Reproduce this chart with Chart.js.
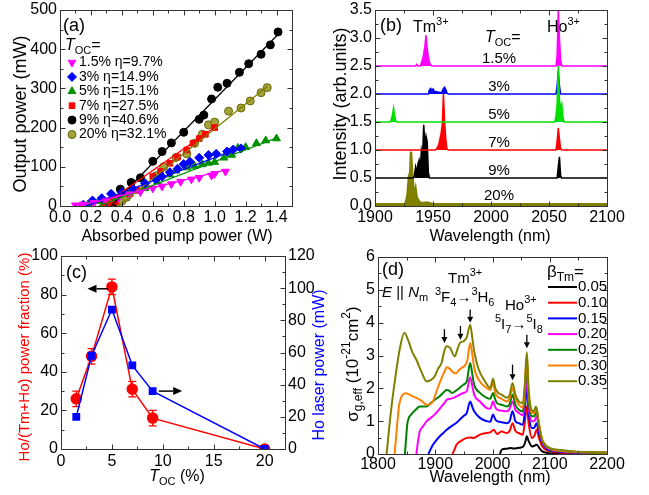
<!DOCTYPE html>
<html>
<head>
<meta charset="utf-8">
<script src="https://cdn.jsdelivr.net/npm/chart.js@4.4.1/dist/chart.umd.min.js"></script>
<style>
  html, body { margin: 0; padding: 0; background: #fff; }
  #wrap { position: relative; width: 649px; height: 495px; }
  #wrap canvas { position: absolute; left: 0; top: 0; }
</style>
</head>
<body>
<div id="wrap">
  <canvas id="ca" width="649" height="495"></canvas>
  <canvas id="cb" width="649" height="495"></canvas>
  <canvas id="cc" width="649" height="495"></canvas>
  <canvas id="cd" width="649" height="495"></canvas>
</div>
<script>
// ---- panel (a): output power vs absorbed pump power ----
const legendA = ["1.5% η=9.7%", "3% η=14.9%", "5% η=15.1%", "7% η=27.5%", "9% η=40.6%", "20% η=32.1%"];
const pumpA15 = [0.10, 0.15, 0.22, 0.30, 0.38, 0.45, 0.52, 0.60, 0.66, 0.72, 0.78, 0.85, 0.90, 0.98, 1.00, 1.07];
const powA15 = [2, 4, 8, 14, 22, 30, 36, 45, 50, 56, 62, 68, 72, 78, 82, 88];
const pumpA3 = [0.15, 0.21, 0.27, 0.33, 0.40, 0.47, 0.55, 0.62, 0.66, 0.71, 0.76, 0.80, 0.84, 0.90, 0.96, 1.01, 1.08, 1.12, 1.17];
const powA3 = [3, 14, 20, 31, 35, 45, 58, 68, 75, 86, 95, 107, 113, 123, 130, 133, 139, 144, 147];
const pumpA5 = [0.18, 0.25, 0.35, 0.45, 0.55, 0.63, 0.71, 0.75, 0.82, 0.87, 0.92, 0.96, 1.00, 1.06, 1.11, 1.15, 1.20, 1.27, 1.33, 1.40];
const powA5 = [3, 12, 22, 33, 45, 62, 80, 90, 98, 102, 106, 110, 112, 123, 130, 148, 150, 160, 167, 172];
const pumpA7 = [0.28, 0.32, 0.36, 0.45, 0.50, 0.60, 0.65, 0.71, 0.76, 0.82, 0.86, 0.90, 0.94, 1.00];
const powA7 = [2, 5, 12, 30, 40, 75, 88, 109, 125, 143, 160, 172, 183, 200];
const pumpA9 = [0.34, 0.39, 0.46, 0.52, 0.60, 0.66, 0.72, 0.80, 0.90, 0.93, 0.98, 1.02, 1.08, 1.16, 1.22, 1.30, 1.36, 1.41];
const powA9 = [3, 43, 60, 72, 114, 139, 161, 188, 221, 232, 273, 303, 313, 341, 363, 387, 411, 444];
const pumpA20 = [0.36, 0.40, 0.43, 0.55, 0.62, 0.67, 0.75, 0.82, 0.87, 0.92, 0.96, 1.00, 1.09, 1.17, 1.23, 1.30, 1.34];
const powA20 = [2, 12, 22, 50, 77, 100, 124, 133, 160, 183, 207, 214, 242, 250, 268, 289, 302];
// linear fits: [start x, end x], [start y, end y]
const fitA15 = [[0.12, 1.07], [0, 92]];
const fitA3 = [[0.17, 1.18], [0, 150]];
const fitA5 = [[0.25, 1.41], [0, 175]];
const fitA7 = [[0.27, 1.00], [0, 201]];
const fitA9 = [[0.33, 1.42], [0, 442]];
const fitA20 = [[0.38, 1.34], [0, 305]];
const xTicksA = [0, 0.2, 0.4, 0.6, 0.8, 1.0, 1.2, 1.4];
const yTicksA = [0, 100, 200, 300, 400, 500];

// ---- panel (b): laser spectra, [wavelength nm, intensity] ----
const labelsB = ["1.5%", "3%", "5%", "7%", "9%", "20%"];
const baseB = [2.5, 2.0, 1.5, 1.0, 0.5, 0.0];
const specB15 = [[1900, 2.5], [1935, 2.5], [1936, 2.53], [1937, 2.5], [1939, 2.5], [1940, 2.56], [1941, 2.62], [1942, 2.72], [1943, 2.85], [1944, 3.05], [1945, 2.82], [1946, 2.66], [1947, 2.56], [1948, 2.52], [1949, 2.5], [2056, 2.5], [2057, 2.68], [2058, 3.5], [2059, 3.0], [2060, 2.62], [2061, 2.5], [2100, 2.5]];
const specB3 = [[1900, 2.0], [1946, 2.0], [1947, 2.08], [1948, 2.1], [1949, 2.06], [1950, 2.09], [1951, 2.05], [1953, 2.04], [1955, 2.03], [1957, 2.02], [1958, 2.05], [1959, 2.1], [1960, 2.12], [1961, 2.08], [1962, 2.02], [1963, 2.0], [2056, 2.0], [2057, 2.15], [2058, 2.4], [2059, 2.15], [2060, 2.0], [2100, 2.0]];
const specB5 = [[1900, 1.5], [1913, 1.5], [1914, 1.55], [1915, 1.62], [1916, 1.75], [1917, 1.6], [1918, 1.52], [1919, 1.5], [2055, 1.5], [2056, 1.6], [2057, 1.8], [2058, 2.5], [2059, 1.9], [2060, 1.75], [2061, 1.82], [2062, 1.6], [2063, 1.5], [2100, 1.5]];
const specB7 = [[1900, 1.0], [1952, 1.0], [1953, 1.02], [1954, 1.05], [1955, 1.1], [1956, 1.2], [1957, 1.3], [1958, 1.45], [1959, 2.0], [1960, 1.5], [1961, 1.2], [1962, 1.02], [1963, 1.0], [2056, 1.0], [2057, 1.15], [2058, 1.39], [2059, 1.2], [2060, 1.02], [2061, 1.0], [2100, 1.0]];
const specB9 = [[1900, 0.5], [1933, 0.5], [1934, 0.55], [1935, 0.7], [1936, 0.6], [1937, 0.75], [1938, 0.82], [1939, 0.65], [1940, 1.0], [1941, 0.9], [1942, 1.45], [1943, 1.1], [1944, 1.25], [1945, 1.15], [1946, 0.6], [1947, 0.5], [2057, 0.5], [2058, 0.7], [2059, 0.88], [2060, 0.55], [2061, 0.5], [2100, 0.5]];
const specB20 = [[1900, 0.03], [1926, 0.03], [1927, 0.1], [1928, 0.2], [1929, 0.45], [1930, 0.35], [1931, 0.97], [1932, 0.6], [1933, 0.35], [1934, 0.2], [1935, 0.3], [1936, 0.15], [1937, 0.12], [1938, 0.08], [1940, 0.05], [1945, 0.06], [1950, 0.03], [2100, 0.03]];
const xTicksB = [1900, 1950, 2000, 2050, 2100];
const yTicksB = [0, 0.5, 1.0, 1.5, 2.0, 2.5, 3.0, 3.5];

// ---- panel (c): power fraction and Ho power vs T_OC ----
const tocC = [1.5, 3, 5, 7, 9, 20];
const fracC = [26, 48, 84, 31, 16, 0];
const errC = [4, 4, 4, 4, 4, 0];
const hoPowC = [20, 58, 86.7, 52, 36, 0];
const xTicksC = [0, 5, 10, 15, 20];
const yTicksC = [0, 20, 40, 60, 80, 100];
const y2TicksC = [0, 20, 40, 60, 80, 100, 120];

// ---- panel (d): gain cross-sections, [wavelength nm, sigma] ----
const betaD = ["0.05", "0.10", "0.15", "0.20", "0.25", "0.30", "0.35"];
const gainD005 = [[2013, 0], [2016, 0.13], [2024, 0.16], [2031, 0.18], [2037, 0.17], [2043, 0.18], [2050, 0.2], [2054, 0.23], [2057, 0.35], [2060, 0.54], [2063, 0.4], [2069, 0.23], [2073, 0.25], [2077, 0.28], [2082, 0.18], [2087, 0.08], [2094, 0.04], [2101, 0.02], [2150, 0.01], [2200, 0]];
const gainD010 = [[1930, 0], [1934, 0.15], [1937, 0.28], [1945, 0.4], [1955, 0.49], [1961, 0.5], [1967, 0.49], [1978, 0.59], [1990, 0.64], [1996, 0.66], [2002, 0.74], [2008, 0.61], [2016, 0.69], [2020, 0.66], [2025, 0.64], [2030, 0.7], [2035, 0.94], [2040, 0.7], [2046, 0.64], [2053, 0.59], [2056, 0.9], [2060, 1.45], [2063, 0.95], [2069, 0.49], [2073, 0.55], [2077, 0.74], [2081, 0.5], [2087, 0.23], [2094, 0.12], [2101, 0.08], [2120, 0.04], [2142, 0.02], [2200, 0.01]];
const gainD015 = [[1888, 0], [1892, 0.15], [1896, 0.28], [1902, 0.42], [1908, 0.54], [1914, 0.64], [1920, 0.74], [1926, 0.82], [1932, 0.89], [1938, 0.97], [1943, 1.05], [1949, 1.15], [1955, 1.25], [1961, 1.6], [1965, 1.42], [1968, 1.3], [1978, 1.1], [1990, 1.0], [1996, 0.98], [2001, 1.2], [2005, 1.05], [2008, 1.0], [2016, 0.97], [2025, 0.94], [2030, 1.0], [2035, 1.3], [2040, 1.0], [2046, 0.94], [2053, 0.89], [2056, 1.2], [2060, 2.06], [2063, 1.3], [2069, 0.79], [2073, 0.8], [2077, 0.94], [2081, 0.65], [2087, 0.34], [2094, 0.17], [2101, 0.11], [2120, 0.06], [2142, 0.04], [2170, 0.03], [2200, 0.02]];
const gainD020 = [[1867, 0], [1870, 0.4], [1873, 0.69], [1879, 0.85], [1885, 1.0], [1892, 1.1], [1899, 1.2], [1905, 1.32], [1911, 1.45], [1916, 1.55], [1920, 1.65], [1926, 1.68], [1932, 1.71], [1938, 1.76], [1943, 1.81], [1949, 1.86], [1955, 1.91], [1961, 2.34], [1965, 2.05], [1968, 1.81], [1978, 1.6], [1990, 1.4], [1996, 1.38], [2001, 1.6], [2005, 1.42], [2008, 1.35], [2016, 1.32], [2025, 1.3], [2030, 1.38], [2035, 1.6], [2040, 1.35], [2046, 1.25], [2053, 1.18], [2056, 1.5], [2060, 2.45], [2063, 1.5], [2069, 1.0], [2073, 1.0], [2077, 1.15], [2081, 0.8], [2087, 0.39], [2094, 0.2], [2101, 0.13], [2120, 0.08], [2142, 0.05], [2170, 0.03], [2200, 0.02]];
const gainD025 = [[1847, 0], [1849, 0.45], [1851, 0.89], [1858, 1.2], [1866, 1.35], [1873, 1.45], [1885, 1.45], [1892, 1.55], [1899, 1.65], [1905, 1.72], [1911, 1.81], [1916, 1.9], [1920, 1.95], [1925, 1.92], [1929, 1.86], [1937, 1.94], [1943, 2.02], [1949, 2.11], [1955, 2.21], [1961, 2.77], [1965, 2.4], [1968, 2.11], [1978, 1.86], [1990, 1.71], [1996, 1.68], [2001, 1.86], [2005, 1.65], [2008, 1.55], [2016, 1.5], [2025, 1.45], [2030, 1.52], [2035, 1.81], [2040, 1.5], [2046, 1.35], [2053, 1.3], [2056, 1.7], [2060, 2.82], [2063, 1.7], [2069, 1.15], [2073, 1.15], [2077, 1.3], [2081, 0.9], [2087, 0.41], [2094, 0.22], [2101, 0.15], [2120, 0.09], [2142, 0.06], [2170, 0.04], [2200, 0.03]];
const gainD030 = [[1829, 0], [1833, 0.8], [1837, 1.5], [1842, 1.78], [1849, 1.85], [1858, 1.78], [1867, 1.71], [1876, 1.62], [1885, 1.5], [1891, 1.52], [1896, 1.6], [1903, 1.95], [1911, 2.31], [1916, 2.5], [1920, 2.64], [1925, 2.6], [1929, 2.52], [1936, 2.45], [1941, 2.55], [1946, 2.62], [1952, 2.7], [1956, 2.85], [1961, 3.38], [1965, 3.0], [1968, 2.62], [1978, 2.21], [1990, 2.01], [1996, 1.95], [2001, 2.16], [2005, 1.85], [2008, 1.76], [2016, 1.68], [2025, 1.6], [2030, 1.7], [2035, 2.01], [2040, 1.7], [2046, 1.5], [2053, 1.42], [2056, 1.9], [2060, 3.0], [2063, 1.9], [2069, 1.25], [2073, 1.25], [2077, 1.4], [2081, 0.95], [2087, 0.44], [2094, 0.24], [2101, 0.16], [2120, 0.1], [2142, 0.07], [2170, 0.05], [2200, 0.04]];
const gainD035 = [[1815, 0], [1822, 1.2], [1830, 2.3], [1838, 3.2], [1846, 3.69], [1853, 3.45], [1860, 3.1], [1867, 2.87], [1876, 2.5], [1885, 2.21], [1892, 2.25], [1899, 2.37], [1905, 2.6], [1911, 2.77], [1916, 3.15], [1920, 3.28], [1926, 3.23], [1934, 2.97], [1939, 3.2], [1943, 3.38], [1949, 3.43], [1955, 3.55], [1961, 3.94], [1965, 3.5], [1968, 3.13], [1975, 2.62], [1987, 2.21], [1996, 2.01], [2001, 2.29], [2005, 2.0], [2010, 1.86], [2016, 1.81], [2025, 1.71], [2030, 1.8], [2035, 2.16], [2040, 1.8], [2046, 1.6], [2052, 1.55], [2056, 2.0], [2060, 3.1], [2063, 2.0], [2068, 1.35], [2072, 1.3], [2076, 1.45], [2080, 1.0], [2085, 0.5], [2092, 0.28], [2101, 0.18], [2120, 0.12], [2142, 0.08], [2170, 0.06], [2200, 0.05]];
// peak markers: [wavelength, arrow top, arrow tip]
const arrowsD = [[1916, 3.8, 3.38], [1944, 3.9, 3.48], [1961, 4.4, 4.0], [2035, 2.72, 2.25], [2060, 3.63, 3.22]];
const xTicksD = [1800, 1900, 2000, 2100, 2200];
const yTicksD = [0, 1, 2, 3, 4, 5, 6];

const FAM = "'Liberation Sans', Arial, Helvetica, sans-serif";
const OLIVE = "#808000";
Chart.defaults.font.family = FAM;
Chart.defaults.font.size = 16;
Chart.defaults.color = "#000";
Chart.defaults.animation = false;
Chart.defaults.responsive = false;
Chart.defaults.plugins.legend.display = false;
Chart.defaults.plugins.tooltip.enabled = false;

const xy = (xs, ys) => xs.map((x, i) => ({ x: x, y: ys[i] }));
const pairs = (a) => a.map(([x, y]) => ({ x: x, y: y }));

function axis(pos, min, max, ticks, fmt, size, pad) {
    return {
        type: "linear",
        position: pos,
        min: min,
        max: max,
        grid: { display: false, drawTicks: false },
        border: { display: false },
        ticks: { padding: pad, autoSkip: false, maxRotation: 0, callback: fmt },
        afterBuildTicks: (s) => { s.ticks = ticks.map((v) => ({ value: v })); },
        afterFit: (s) => {
            if (s.isHorizontal()) s.height = size; else s.width = size;
            s.paddingLeft = s.paddingRight = s.paddingTop = s.paddingBottom = 0;
        }
    };
}

function minors(major, max) {
    const step = major[1] - major[0];
    const out = [];
    for (let v = major[0] + step / 2; v < max + 1e-9; v += step) out.push(v);
    return out;
}

// frame with inward ticks on all sides
function drawFrame(chart, spec) {
    const { ctx, chartArea: a } = chart;
    ctx.save();
    ctx.strokeStyle = "#333";
    ctx.lineWidth = 1;
    const L = Math.round(a.left) + 0.5, T = Math.round(a.top) + 0.5;
    const R = Math.round(a.right) + 0.5, B = Math.round(a.bottom) + 0.5;
    ctx.strokeRect(L, T, R - L, B - T);
    for (const t of spec) {
        const s = chart.scales[t.id];
        const all = t.major.map((v) => [v, 5]).concat(minors(t.major, s.max).map((v) => [v, 3]));
        ctx.beginPath();
        for (const [v, len] of all) {
            const p = Math.round(s.getPixelForValue(v)) + 0.5;
            for (const side of t.sides) {
                if (side === "bottom") { ctx.moveTo(p, B); ctx.lineTo(p, B - len); }
                if (side === "top") { ctx.moveTo(p, T); ctx.lineTo(p, T + len); }
                if (side === "left") { ctx.moveTo(L, p); ctx.lineTo(L + len, p); }
                if (side === "right") { ctx.moveTo(R, p); ctx.lineTo(R - len, p); }
            }
        }
        ctx.stroke();
    }
    ctx.restore();
}

// text with italic / sub ("b") / sup ("p") pieces
function rich(ctx, x, y, parts, size, align, color) {
    const small = Math.round(size * 0.7);
    const items = parts.map((p) => {
        const t = typeof p === "string" ? p : p[0];
        const m = typeof p === "string" ? "" : p[1];
        const sz = /[bp]/.test(m) ? small : size;
        const font = (m.includes("i") ? "italic " : "") + sz + "px " + FAM;
        ctx.font = font;
        const dy = m.includes("b") ? size * 0.32 : m.includes("p") ? -size * 0.38 : 0;
        return { t: t, font: font, w: ctx.measureText(t).width, dy: dy };
    });
    const total = items.reduce((s, it) => s + it.w, 0);
    let cx = align === "center" ? x - total / 2 : align === "right" ? x - total : x;
    ctx.fillStyle = color || "#000";
    ctx.textAlign = "left";
    ctx.textBaseline = "middle";
    for (const it of items) {
        ctx.font = it.font;
        ctx.fillText(it.t, cx, y + it.dy);
        cx += it.w;
    }
}

function richUp(ctx, x, y, parts, size, color) {
    ctx.save();
    ctx.translate(x, y);
    ctx.rotate(-Math.PI / 2);
    rich(ctx, 0, 0, parts, size, "center", color);
    ctx.restore();
}

function arrow(ctx, x1, y1, x2, y2, head, half) {
    const ang = Math.atan2(y2 - y1, x2 - x1);
    const bx = x2 - head * Math.cos(ang), by = y2 - head * Math.sin(ang);
    ctx.beginPath();
    ctx.moveTo(x1, y1);
    ctx.lineTo(bx, by);
    ctx.stroke();
    ctx.beginPath();
    ctx.moveTo(x2, y2);
    ctx.lineTo(bx + half * Math.sin(ang), by - half * Math.cos(ang));
    ctx.lineTo(bx - half * Math.sin(ang), by + half * Math.cos(ang));
    ctx.closePath();
    ctx.fill();
}

// ---------------- panel (a) ----------------
const stylesA = [
    { color: "#ff00ff", pointStyle: "triangle", rotation: 180, radius: 4.5 },
    { color: "#0000ff", pointStyle: "rectRot", rotation: 0, radius: 4.5 },
    { color: "#009000", pointStyle: "triangle", rotation: 0, radius: 4.5 },
    { color: "#ff0000", pointStyle: "rect", rotation: 0, radius: 4 },
    { color: "#000000", pointStyle: "circle", rotation: 0, radius: 4 },
    { color: OLIVE, pointStyle: "circle", rotation: 0, radius: 4 }
];
const pointsA = [xy(pumpA15, powA15), xy(pumpA3, powA3), xy(pumpA5, powA5), xy(pumpA7, powA7), xy(pumpA9, powA9), xy(pumpA20, powA20)];
const fitsA = [fitA15, fitA3, fitA5, fitA7, fitA9, fitA20];

const dataA = [];
fitsA.forEach((f, i) => {
    dataA.push({
        data: xy(f[0], f[1]),
        borderColor: stylesA[i].color,
        borderWidth: 1.3,
        pointRadius: 0,
        fill: false
    });
});
pointsA.forEach((p, i) => {
    const st = stylesA[i];
    dataA.push({
        data: p,
        showLine: false,
        pointStyle: st.pointStyle,
        rotation: st.rotation,
        pointRadius: st.radius,
        backgroundColor: i === 5 ? "#a3a33a" : st.color,
        borderColor: i === 5 ? "#66660a" : st.color,
        borderWidth: 1
    });
});

new Chart(document.getElementById("ca"), {
    type: "line",
    data: { datasets: dataA },
    options: {
        layout: { padding: { left: 20, right: 357, top: 10, bottom: 259 } },
        scales: {
            x: axis("bottom", 0, 1.5, xTicksA, (v) => v.toFixed(1), 30, 2),
            y: axis("left", 0, 500, yTicksA, (v) => String(v), 40, 3)
        }
    },
    plugins: [{
        id: "decoA",
        afterDraw(chart) {
            const ctx = chart.ctx;
            drawFrame(chart, [
                { id: "x", major: xTicksA, sides: ["bottom", "top"] },
                { id: "y", major: yTicksA, sides: ["left", "right"] }
            ]);
            rich(ctx, 63, 26, ["(a)"], 18, "left");
            rich(ctx, 65, 46, [["T", "i"], ["OC", "b"], "="], 16, "left");
            legendA.forEach((lab, i) => {
                const y = 62.5 + i * 14.4;
                const st = stylesA[i];
                ctx.save();
                ctx.fillStyle = i === 5 ? "#a3a33a" : st.color;
                ctx.strokeStyle = i === 5 ? "#66660a" : st.color;
                ctx.lineWidth = 1;
                Chart.helpers.drawPoint(ctx, { pointStyle: st.pointStyle, rotation: st.rotation, radius: st.radius, borderWidth: 1 }, 72, y);
                ctx.restore();
                rich(ctx, 79, y, [lab], 14, "left");
            });
            richUp(ctx, 21, 114, ["Output power (mW)"], 18);
            rich(ctx, 177, 237, ["Absorbed pump power (W)"], 16, "center");
        }
    }]
});

// ---------------- panel (b) ----------------
const colorsB = ["#ff00ff", "#0000ff", "#00e000", "#ff0000", "#000000", OLIVE];
const specB = [specB15, specB3, specB5, specB7, specB9, specB20];
const dataB = specB.map((s, i) => ({
    data: pairs(s),
    borderColor: colorsB[i],
    backgroundColor: colorsB[i],
    borderWidth: i === 5 ? 2.5 : 1.5,
    pointRadius: 0,
    tension: 0,
    fill: { value: baseB[i] }
}));
// green 5% drawn above the blue 3% trace
dataB[2].order = -1;

new Chart(document.getElementById("cb"), {
    type: "line",
    data: { datasets: dataB },
    options: {
        layout: { padding: { left: 335, right: 42, top: 10, bottom: 259 } },
        scales: {
            x: axis("bottom", 1900, 2100, xTicksB, (v) => String(v), 30, 2),
            y: axis("left", 0, 3.5, yTicksB, (v) => v.toFixed(1), 40, 3)
        }
    },
    plugins: [{
        id: "decoB",
        afterDraw(chart) {
            const ctx = chart.ctx;
            const ys = chart.scales.y;
            drawFrame(chart, [
                { id: "x", major: xTicksB, sides: ["bottom", "top"] },
                { id: "y", major: yTicksB, sides: ["left", "right"] }
            ]);
            rich(ctx, 380, 26, ["(b)"], 18, "left");
            rich(ctx, 413, 28, ["Tm", ["3+", "p"]], 16, "left");
            rich(ctx, 547, 28, ["Ho", ["3+", "p"]], 16, "left");
            rich(ctx, 485, 38, [["T", "i"], ["OC", "b"], "="], 16, "left");
            labelsB.forEach((lab, i) => {
                const y = ys.getPixelForValue(Math.max(baseB[i], 0.05)) - 7;
                rich(ctx, 499, y, [lab], 15, "center");
            });
            richUp(ctx, 341, 104, ["Intensity (arb.units)"], 18);
            rich(ctx, 490, 237, ["Wavelength (nm)"], 16, "center");
        }
    }]
});

// ---------------- panel (c) ----------------
new Chart(document.getElementById("cc"), {
    type: "line",
    data: {
        datasets: [
            {
                data: xy(tocC, hoPowC),
                yAxisID: "y2",
                borderColor: "#0000ff",
                backgroundColor: "#0000ff",
                borderWidth: 1.5,
                pointStyle: "rect",
                pointRadius: 4.5,
                tension: 0
            },
            {
                data: xy(tocC, fracC),
                yAxisID: "y",
                borderColor: "#ff0000",
                backgroundColor: "#ff0000",
                borderWidth: 1.5,
                pointStyle: "circle",
                pointRadius: 5,
                tension: 0
            }
        ]
    },
    options: {
        layout: { padding: { left: 21, right: 324, top: 256, bottom: 16 } },
        scales: {
            x: axis("bottom", 0, 22, xTicksC, (v) => String(v), 30, 3),
            y: axis("left", 0, 100, yTicksC, (v) => String(v), 40, 3),
            y2: axis("right", 0, 120, y2TicksC, (v) => String(v), 40, 3)
        }
    },
    plugins: [{
        id: "decoC",
        beforeDatasetsDraw(chart) {
            const ctx = chart.ctx;
            const xs = chart.scales.x, ys = chart.scales.y;
            ctx.save();
            ctx.strokeStyle = "#ff0000";
            ctx.lineWidth = 1.3;
            tocC.forEach((t, i) => {
                if (!errC[i]) return;
                const x = xs.getPixelForValue(t);
                const y1 = ys.getPixelForValue(fracC[i] + errC[i]);
                const y2 = ys.getPixelForValue(fracC[i] - errC[i]);
                ctx.beginPath();
                ctx.moveTo(x, y1); ctx.lineTo(x, y2);
                ctx.moveTo(x - 4, y1); ctx.lineTo(x + 4, y1);
                ctx.moveTo(x - 4, y2); ctx.lineTo(x + 4, y2);
                ctx.stroke();
            });
            ctx.restore();
        },
        afterDraw(chart) {
            const ctx = chart.ctx;
            const xs = chart.scales.x, ys = chart.scales.y, y2s = chart.scales.y2;
            drawFrame(chart, [
                { id: "x", major: xTicksC, sides: ["bottom", "top"] },
                { id: "y", major: yTicksC, sides: ["left"] },
                { id: "y2", major: y2TicksC, sides: ["right"] }
            ]);
            rich(ctx, 66, 273, ["(c)"], 18, "left");
            ctx.save();
            ctx.strokeStyle = "#000";
            ctx.fillStyle = "#000";
            ctx.lineWidth = 1.5;
            let ya = ys.getPixelForValue(83);
            arrow(ctx, xs.getPixelForValue(4.6), ya, xs.getPixelForValue(2.6), ya, 9, 4);
            ya = y2s.getPixelForValue(36);
            arrow(ctx, xs.getPixelForValue(9.6), ya, xs.getPixelForValue(11.9), ya, 9, 4);
            ctx.restore();
            richUp(ctx, 25, 357, ["Ho/(Tm+Ho) power fraction (%)"], 15, "#ff0000");
            richUp(ctx, 320, 365, ["Ho laser power (mW)"], 16, "#0000ff");
            rich(ctx, 177, 477, [["T", "i"], ["OC", "b"], " (%)"], 16, "center");
        }
    }]
});

// ---------------- panel (d) ----------------
const colorsD = ["#000000", "#ff0000", "#0000ff", "#ff00ff", "#008000", "#ff8000", OLIVE];
const gainD = [gainD005, gainD010, gainD015, gainD020, gainD025, gainD030, gainD035];
const dataD = gainD.map((g, i) => ({
    data: pairs(g),
    borderColor: colorsD[i],
    borderWidth: 2,
    pointRadius: 0,
    cubicInterpolationMode: "monotone",
    fill: false,
    order: gainD.length - i
}));

new Chart(document.getElementById("cd"), {
    type: "line",
    data: { datasets: dataD },
    options: {
        layout: { padding: { left: 348, right: 42, top: 257, bottom: 11 } },
        scales: {
            x: axis("bottom", 1800, 2200, xTicksD, (v) => String(v), 30, 1),
            y: axis("left", 0, 6, yTicksD, (v) => String(v), 30, 3)
        }
    },
    plugins: [{
        id: "decoD",
        afterDraw(chart) {
            const ctx = chart.ctx;
            const xs = chart.scales.x, ys = chart.scales.y;
            drawFrame(chart, [
                { id: "x", major: xTicksD, sides: ["bottom", "top"] },
                { id: "y", major: yTicksD, sides: ["left", "right"] }
            ]);
            rich(ctx, 382, 270, ["(d)"], 18, "left");
            rich(ctx, 382, 293, [["E", "i"], " || ", ["N", "i"], ["m", "b"]], 15, "left");
            rich(ctx, 448, 279, ["Tm", ["3+", "p"]], 15, "left");
            rich(ctx, 435, 298, [["3", "p"], "F", ["4", "b"], "→", ["3", "p"], "H", ["6", "b"]], 15, "left");
            rich(ctx, 505, 306, ["Ho", ["3+", "p"]], 15, "left");
            rich(ctx, 495, 325, [["5", "p"], "I", ["7", "b"], "→", ["5", "p"], "I", ["8", "b"]], 15, "left");
            ctx.save();
            ctx.strokeStyle = "#000";
            ctx.fillStyle = "#000";
            ctx.lineWidth = 1.3;
            arrowsD.forEach(([wl, top, tip]) => {
                const x = xs.getPixelForValue(wl);
                arrow(ctx, x, ys.getPixelForValue(top), x, ys.getPixelForValue(tip), 6, 3);
            });
            ctx.restore();
            rich(ctx, 547, 272, ["β", ["Tm", "b"], "="], 17, "left");
            betaD.forEach((b, i) => {
                const y = 287 + i * 15.7;
                ctx.save();
                ctx.strokeStyle = colorsD[i];
                ctx.lineWidth = 2;
                ctx.beginPath();
                ctx.moveTo(548, y); ctx.lineTo(577, y);
                ctx.stroke();
                ctx.restore();
                rich(ctx, 578, y, [b], 15, "left");
            });
            richUp(ctx, 353, 364, ["σ", ["g,eff", "b"], " (10", ["-21", "p"], "cm", ["2", "p"], ")"], 17);
            rich(ctx, 490, 478, ["Wavelength (nm)"], 16, "center");
        }
    }]
});
</script>
</body>
</html>
